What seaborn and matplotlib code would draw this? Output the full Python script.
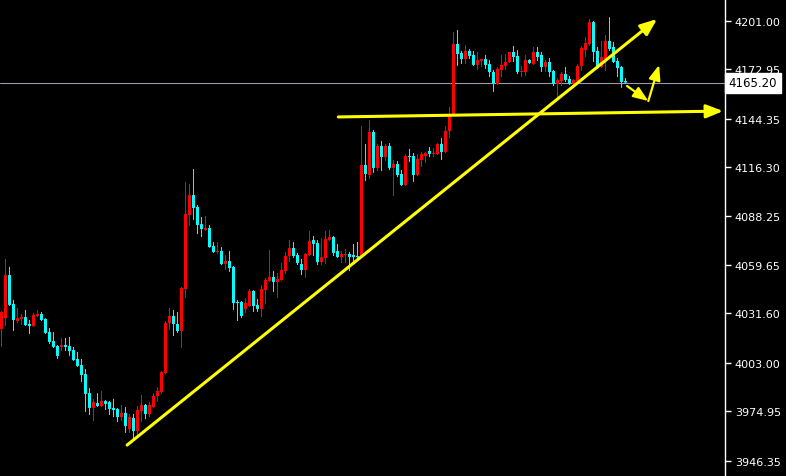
import numpy as np
import matplotlib
matplotlib.use('Agg')
import matplotlib.pyplot as plt
import seaborn as sns

# OHLC per bar
opens = [4022.6, 4028.9, 4053.8, 4037.1, 4027.2, 4028.4, 4029.5, 4025.5, 4024.3, 4030.1,
         4031.3, 4028.4, 4020.8, 4015.6, 4012.7, 4012.2, 4013.3, 4012.7, 4010.4, 4005.2,
         4001.7, 3996.5, 3985.5, 3976.9, 3979.7, 3978.0, 3980.9, 3980.3, 3976.9, 3976.3,
         3971.6, 3974.0, 3964.7, 3971.1, 3963.5, 3975.1, 3978.6, 3973.4, 3977.4, 3983.8,
         3986.1, 3997.1, 4026.0, 4030.1, 4025.5, 4021.4, 4045.7, 4088.6, 4100.1, 4093.2,
         4083.3, 4079.9, 4081.0, 4070.6, 4067.1, 4067.7, 4060.2, 4061.9, 4058.5, 4038.2,
         4038.2, 4034.2, 4035.9, 4044.6, 4036.5, 4034.2, 4045.1, 4050.4, 4052.7, 4049.8,
         4050.9, 4056.1, 4064.8, 4069.5, 4065.4, 4060.2, 4056.7, 4065.4, 4074.1, 4072.3,
         4061.3, 4063.7, 4074.1, 4075.8, 4067.7, 4064.2, 4065.4, 4066.0, 4065.4, 4064.8,
         4064.2, 4117.5, 4111.7, 4136.6, 4115.8, 4128.5, 4122.1, 4128.5, 4115.8, 4118.1,
         4112.3, 4105.9, 4122.7, 4122.7, 4111.7, 4120.4, 4122.7, 4125.6, 4123.9, 4123.9,
         4129.7, 4125.0, 4137.2, 4147.0, 4187.5, 4182.3, 4178.8, 4183.5, 4181.2, 4175.4,
         4177.7, 4178.8, 4175.9, 4171.3, 4164.4, 4172.5, 4174.8, 4177.1, 4182.9, 4180.6,
         4171.3, 4171.3, 4178.3, 4175.9, 4182.9, 4181.2, 4174.2, 4177.1, 4171.9, 4164.4,
         4166.1, 4170.2, 4167.3, 4164.4, 4166.1, 4174.8, 4184.0, 4187.5, 4200.2, 4183.5,
         4174.2, 4178.8, 4189.3, 4185.8, 4177.7, 4174.2, 4166.1]
highs = [4033.0, 4063.1, 4058.5, 4039.4, 4034.7, 4031.3, 4033.6, 4027.8, 4031.8, 4033.6,
         4032.4, 4028.9, 4023.2, 4020.8, 4013.3, 4017.4, 4017.4, 4018.0, 4012.2, 4009.3,
         4005.2, 3999.4, 3988.4, 3982.1, 3985.5, 3986.7, 3981.5, 3980.9, 3982.1, 3976.9,
         3978.6, 3977.4, 3973.4, 3973.4, 3978.0, 3984.4, 3979.2, 3980.3, 3985.5, 3989.0,
         3998.3, 4027.2, 4034.7, 4033.6, 4032.4, 4046.9, 4107.7, 4106.5, 4115.2, 4094.3,
         4087.4, 4088.0, 4082.8, 4072.9, 4072.9, 4070.0, 4065.4, 4067.7, 4059.0, 4039.4,
         4038.8, 4040.5, 4045.7, 4045.1, 4039.9, 4048.0, 4052.1, 4068.3, 4056.1, 4055.0,
         4060.8, 4067.1, 4074.1, 4072.9, 4066.6, 4063.1, 4066.6, 4079.3, 4076.4, 4074.1,
         4075.2, 4079.3, 4079.9, 4076.4, 4071.8, 4067.7, 4068.9, 4067.1, 4071.8, 4072.9,
         4140.1, 4129.7, 4143.5, 4137.7, 4129.7, 4131.4, 4129.7, 4130.2, 4120.4, 4119.8,
         4114.6, 4123.9, 4126.8, 4124.4, 4123.9, 4125.0, 4125.0, 4127.9, 4127.3, 4130.2,
         4133.1, 4140.1, 4151.1, 4194.5, 4195.6, 4183.5, 4186.9, 4184.6, 4183.5, 4182.9,
         4178.8, 4181.2, 4178.3, 4172.5, 4174.2, 4181.2, 4181.7, 4182.9, 4186.4, 4184.0,
         4174.8, 4181.2, 4178.8, 4185.8, 4185.8, 4182.9, 4178.3, 4179.4, 4172.5, 4167.8,
         4171.3, 4174.2, 4169.0, 4167.3, 4175.9, 4186.4, 4191.6, 4202.0, 4200.8, 4185.8,
         4189.3, 4192.7, 4203.1, 4188.7, 4179.4, 4174.8, 4167.8]
lows = [4012.2, 4024.3, 4035.9, 4021.4, 4026.0, 4024.9, 4024.3, 4019.7, 4023.7, 4029.5,
        4027.2, 4019.7, 4013.9, 4011.6, 4005.2, 4009.8, 4009.8, 4007.0, 4004.1, 4000.6,
        3991.9, 3974.5, 3972.8, 3969.3, 3977.4, 3977.4, 3975.7, 3972.8, 3971.6, 3968.7,
        3969.3, 3962.4, 3962.4, 3958.9, 3960.1, 3968.7, 3970.5, 3971.6, 3976.9, 3980.3,
        3985.0, 3996.5, 4022.0, 4018.5, 4020.3, 4011.6, 4040.5, 4082.2, 4085.7, 4077.6,
        4075.8, 4079.3, 4069.5, 4066.6, 4066.0, 4059.6, 4056.7, 4055.6, 4033.6, 4027.2,
        4028.9, 4031.8, 4035.3, 4032.4, 4032.4, 4029.5, 4037.0, 4049.8, 4044.0, 4040.5,
        4050.4, 4054.4, 4061.3, 4063.7, 4059.6, 4053.8, 4052.1, 4064.8, 4064.8, 4059.6,
        4059.6, 4060.2, 4073.5, 4064.8, 4063.7, 4060.8, 4060.8, 4056.1, 4060.2, 4063.1,
        4063.7, 4108.2, 4109.4, 4112.9, 4114.0, 4114.0, 4119.8, 4114.6, 4099.6, 4110.5,
        4105.3, 4105.3, 4119.2, 4107.7, 4111.1, 4116.3, 4118.6, 4122.1, 4122.1, 4123.3,
        4120.4, 4124.4, 4133.1, 4146.4, 4174.8, 4175.9, 4175.9, 4178.8, 4174.8, 4172.5,
        4174.2, 4173.1, 4168.4, 4159.7, 4163.8, 4168.4, 4172.5, 4176.5, 4177.1, 4170.2,
        4168.4, 4169.0, 4175.9, 4175.4, 4177.7, 4171.3, 4171.3, 4168.4, 4163.2, 4155.7,
        4163.2, 4165.5, 4163.8, 4163.8, 4165.5, 4171.9, 4180.0, 4186.4, 4177.1, 4173.1,
        4173.6, 4171.9, 4183.5, 4176.5, 4168.4, 4162.1, 4164.4]
closes = [4032.4, 4053.8, 4036.5, 4027.8, 4028.9, 4029.5, 4024.9, 4024.3, 4030.7, 4031.3,
          4027.8, 4020.3, 4015.1, 4012.2, 4007.0, 4013.3, 4012.2, 4009.8, 4004.6, 4001.2,
          3996.0, 3985.0, 3976.9, 3980.3, 3978.0, 3980.9, 3979.2, 3976.3, 3975.7, 3971.6,
          3974.0, 3966.4, 3971.6, 3963.5, 3975.7, 3978.6, 3973.4, 3978.6, 3983.8, 3986.7,
          3997.7, 4026.0, 4030.1, 4025.5, 4021.4, 4046.3, 4089.1, 4100.1, 4092.6, 4082.8,
          4080.4, 4081.0, 4070.0, 4067.1, 4067.7, 4060.2, 4061.9, 4057.9, 4037.6, 4037.6,
          4030.1, 4037.6, 4044.6, 4035.9, 4034.2, 4045.7, 4050.9, 4052.7, 4049.8, 4051.5,
          4056.7, 4064.8, 4069.5, 4064.8, 4060.8, 4056.7, 4066.0, 4073.5, 4071.8, 4061.3,
          4064.2, 4074.7, 4075.8, 4066.6, 4064.2, 4066.0, 4066.0, 4064.2, 4064.2, 4064.2,
          4117.5, 4112.3, 4136.6, 4115.8, 4128.5, 4122.1, 4128.5, 4115.8, 4118.1, 4111.7,
          4105.9, 4122.7, 4122.1, 4111.7, 4121.0, 4123.9, 4124.4, 4123.9, 4124.4, 4129.7,
          4125.0, 4137.2, 4147.0, 4187.5, 4181.7, 4178.8, 4183.5, 4180.6, 4175.4, 4178.3,
          4178.8, 4175.4, 4171.3, 4164.4, 4173.1, 4175.4, 4177.1, 4182.9, 4180.0, 4171.3,
          4171.9, 4178.3, 4176.5, 4182.9, 4180.0, 4174.2, 4177.1, 4171.3, 4164.4, 4166.7,
          4170.2, 4166.7, 4164.4, 4166.7, 4174.8, 4185.2, 4188.1, 4200.2, 4182.9, 4173.6,
          4180.0, 4189.3, 4184.6, 4177.1, 4173.6, 4165.5, 4165.2]

price_ticks = [4201.00, 4172.95, 4144.35, 4116.30, 4088.25,
               4059.65, 4031.60, 4003.00, 3974.95, 3946.35]
last_price = 4165.20

# hand-drawn lines: (bar index, price)
trend_start = (31.4, 3955.4)
trend_end = (163.9, 4202.0)
level_start = (84.2, 4145.3)
level_end = (180.4, 4148.7)
zig_a = (156.4, 4163.2)
zig_b = (161.7, 4154.5)
zig_c = (164.4, 4175.4)

up_color = '#FF0000'
down_color = '#00FFFF'
pen = '#FFFF00'

sns.set_style('dark', {'axes.facecolor': 'black', 'figure.facecolor': 'black',
                       'axes.grid': False})
plt.rcParams['font.family'] = ['DejaVu Sans']

fig = plt.figure(figsize=(7.86, 4.77), dpi=100)
ax = fig.add_axes([0, 0, 725 / 786, 1])

o = np.array(opens)
h = np.array(highs)
l = np.array(lows)
c = np.array(closes)
idx = np.arange(len(o))
colors = [up_color if cc >= oo else down_color for oo, cc in zip(o, c)]

# 4 px per bar: 3 px body, 1 px wick; no snapping so edges sit on pixel borders
wicks = ax.bar(idx, h - l, bottom=l, width=0.25, color=colors, linewidth=0, zorder=2)
bodies = ax.bar(idx, np.maximum(np.abs(c - o), 0.6), bottom=np.minimum(o, c), width=0.75,
                color=colors, linewidth=0, zorder=3)
for rect in list(wicks) + list(bodies):
    rect.set_snap(False)

ax.axhline(last_price, color='#9a9aa8', lw=0.8, zorder=1)

# trend line and level
line_kw = dict(arrowstyle='-|>,head_length=1.0,head_width=0.4', color=pen,
               lw=2.2, shrinkA=0, shrinkB=0)
ax.annotate('', xy=trend_end, xytext=trend_start, arrowprops=line_kw, zorder=5)
ax.annotate('', xy=level_end, xytext=level_start, arrowprops=line_kw, zorder=5)
small_kw = dict(arrowstyle='-|>,head_length=0.9,head_width=0.35', color=pen,
                lw=1.6, shrinkA=0, shrinkB=0)
ax.annotate('', xy=zig_b, xytext=zig_a, arrowprops=small_kw, zorder=5)
ax.annotate('', xy=zig_c, xytext=zig_b, arrowprops=small_kw, zorder=5)

ax.set_xlim(-0.375, 180.875)
ax.set_ylim(3937.5, 4213.56)

for side in ['left', 'top', 'bottom']:
    ax.spines[side].set_visible(False)
ax.spines['right'].set_color('white')
ax.spines['right'].set_linewidth(1)
ax.set_xticks([])
ax.yaxis.tick_right()
ax.set_yticks(price_ticks)
ax.set_yticklabels(['%.2f' % v for v in price_ticks])
ax.tick_params(axis='y', which='both', right=True, left=False, labelright=True,
               labelleft=False, colors='white', length=4, width=1, pad=3,
               labelsize=8, direction='out')

ax.text(1.005, last_price, '%.2f' % last_price, transform=ax.get_yaxis_transform(),
        ha='left', va='center', fontsize=8.5, color='black', clip_on=False, zorder=6,
        bbox=dict(boxstyle='square,pad=0.3', fc='white', ec='white'))

fig.savefig('out.png', dpi=100, facecolor='black')
